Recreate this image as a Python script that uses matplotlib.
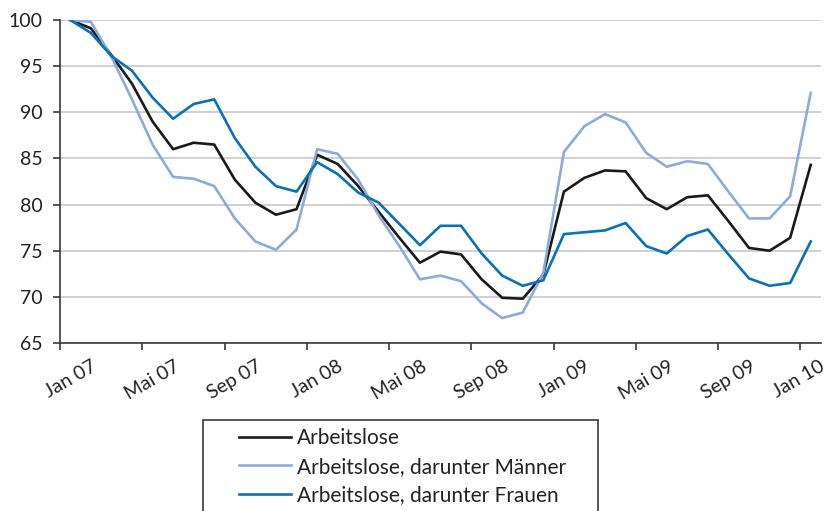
from matplotlib.backends.backend_agg import FigureCanvasAgg
from matplotlib.figure import Figure
from matplotlib.patches import Rectangle
from matplotlib.transforms import ScaledTranslation
import matplotlib as mpl

mpl.rcParams['font.family'] = ['Lato', 'DejaVu Sans']

# Index, Jan 2007 = 100, monthly Jan 07 .. Jan 10
months = ['Jan 07', 'Feb 07', 'Mrz 07', 'Apr 07', 'Mai 07', 'Jun 07', 'Jul 07', 'Aug 07',
          'Sep 07', 'Okt 07', 'Nov 07', 'Dez 07',
          'Jan 08', 'Feb 08', 'Mrz 08', 'Apr 08', 'Mai 08', 'Jun 08', 'Jul 08', 'Aug 08',
          'Sep 08', 'Okt 08', 'Nov 08', 'Dez 08',
          'Jan 09', 'Feb 09', 'Mrz 09', 'Apr 09', 'Mai 09', 'Jun 09', 'Jul 09', 'Aug 09',
          'Sep 09', 'Okt 09', 'Nov 09', 'Dez 09', 'Jan 10']
gesamt = [100.0, 99.1, 96.2, 93.1, 89.0, 86.0, 86.7, 86.5, 82.7, 80.2, 78.9, 79.5,
          85.4, 84.4, 82.0, 79.2, 76.4, 73.7, 74.9, 74.6, 71.9, 69.9, 69.8, 72.4,
          81.4, 82.9, 83.7, 83.6, 80.7, 79.5, 80.8, 81.0, 78.2, 75.3, 75.0, 76.4, 84.3]
maenner = [100.0, 99.8, 96.0, 91.4, 86.5, 83.0, 82.8, 82.0, 78.5, 76.0, 75.1, 77.3,
           86.0, 85.5, 82.7, 78.8, 75.5, 71.9, 72.3, 71.7, 69.3, 67.7, 68.3, 72.6,
           85.7, 88.5, 89.8, 88.9, 85.6, 84.1, 84.7, 84.4, 81.4, 78.5, 78.5, 80.9, 92.1]
frauen = [100.0, 98.6, 96.1, 94.5, 91.6, 89.3, 90.9, 91.4, 87.2, 84.1, 82.0, 81.4,
          84.6, 83.3, 81.3, 80.2, 77.9, 75.6, 77.7, 77.7, 74.7, 72.3, 71.2, 71.8,
          76.8, 77.0, 77.2, 78.0, 75.5, 74.7, 76.6, 77.3, 74.6, 72.0, 71.2, 71.5, 76.0]
labels = ['Arbeitslose', 'Arbeitslose, darunter Männer', 'Arbeitslose, darunter Frauen']

W, H = 828, 511
f = Figure(figsize=(W / 100, H / 100), dpi=100)
ax = f.add_axes([60 / W, 1 - 343 / H, (821 - 60) / W, (343 - 20) / H])

x = list(range(len(months)))
ax.plot(x, gesamt, color='#1a1a1a', lw=1.9, label=labels[0])
ax.plot(x, maenner, color='#8cabdd', lw=1.9, label=labels[1])
ax.plot(x, frauen, color='#0a70b8', lw=1.9, label=labels[2])

ax.set_xlim(-0.5, len(months) - 0.5)
ax.set_ylim(65, 100)
ax.set_yticks(range(65, 101, 5))
ax.yaxis.grid(True, color='#c8c8c8', lw=1.2)
ax.set_axisbelow(True)

# tick marks between categories, labels centred on every 4th month
ax.set_xticks([i - 0.5 for i in range(0, len(months), 4)])
ax.set_xticklabels([])
ax.set_xticks(list(range(0, len(months), 4)), minor=True)
ax.set_xticklabels([months[i] for i in range(0, len(months), 4)], minor=True,
                   rotation=30, ha='center', va='top')

for s in ['top', 'right']:
    ax.spines[s].set_visible(False)
for s in ['left', 'bottom']:
    ax.spines[s].set_color('#3a3a3a')
    ax.spines[s].set_linewidth(1.2)
ax.tick_params(axis='both', which='major', colors='#3a3a3a', labelcolor='#222222',
               labelsize=14, length=5, width=1.2)
ax.tick_params(axis='y', pad=7.5)
ax.tick_params(axis='x', which='minor', length=0, pad=10.5, labelsize=14,
               labelcolor='#222222')

# last label is pushed left so it stays inside the picture
last = ax.get_xticklabels(minor=True)[-1]
last.set_transform(last.get_transform() + ScaledTranslation(-0.12, 0, f.dpi_scale_trans))

# legend box runs off the bottom of the picture
f.patches.append(Rectangle((203 / W, -0.05), (598 - 203) / W, 0.05 + 1 - 420 / H,
                           transform=f.transFigure, fill=False,
                           edgecolor='#3a3a3a', lw=1.2))
f.legend(loc='upper left', bbox_to_anchor=(239 / W, 1 - 428 / H), frameon=False,
         fontsize=15, borderpad=0, borderaxespad=0, handlelength=2.5,
         handletextpad=0.3, labelspacing=0.42, labelcolor='#222222')

canvas = FigureCanvasAgg(f)
f.savefig('out.png', dpi=100)
